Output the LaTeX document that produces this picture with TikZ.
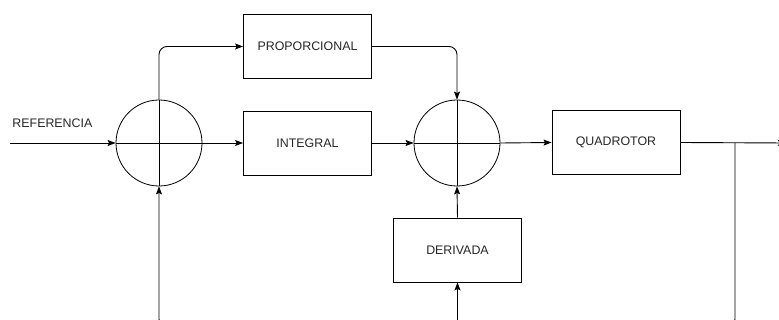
\documentclass[tikz,border=0pt]{standalone}
\usepackage{fontspec}
\setmainfont{Liberation Sans}
\usetikzlibrary{arrows.meta}
\begin{document}
\begin{tikzpicture}[x=1pt,y=-1pt,
  line width=0.9pt,
  every node/.style={font=\fontsize{12.4}{14}\selectfont, text=black!85},
  block/.style={draw, line width=0.9pt, minimum width=128pt, minimum height=64pt, inner sep=0pt},
  summer/.style={draw, circle, line width=0.8pt, minimum size=86pt, inner sep=0pt,
    path picture={
      \draw[line width=0.9pt] (path picture bounding box.north) -- (path picture bounding box.south);
      \draw[line width=0.9pt] (path picture bounding box.west) -- (path picture bounding box.east);
    }},
  flow/.style={-{Stealth[length=8pt,width=6pt,inset=1.5pt]}, line width=0.9pt},
  wire/.style={line width=0.9pt}
]
\useasboundingbox (0,0) rectangle (779,320);
\clip (0,0) rectangle (779,320);

% summing junctions
\node[summer] (c1) at (159,143) {};
\node[summer] (c2) at (457,143) {};

% controller and plant blocks
\node[block] (prop) at (307.5,46.5) {PROPORCIONAL};
\node[block] (int)  at (307.5,143) {INTEGRAL};
\node[block] (der)  at (457.5,250) {DERIVADA};
\node[block] (quad) at (616,142.5) {QUADROTOR};

% reference input
\node[anchor=west, inner sep=0pt] (reflabel) at (12,123) {REFERENCIA};
\coordinate (in) at (10,143);
\draw[flow] (in) -- (c1.west);

% forward paths
\draw[flow, rounded corners=8pt] (c1.north) |- (prop.west);
\draw[flow] (c1.east) -- (int.west);
\draw[flow, rounded corners=8pt] (prop.east) -| (c2.north);
\draw[flow] (int.east) -- (c2.west);
\draw[flow] (der.north) -- (c2.south);
\draw[flow] (c2.east) -- (quad.west);

% output
\coordinate (out) at (786,143);
\draw[flow] (quad.east) -- (out);

% feedback loop
\coordinate (tap) at (735,143);
\coordinate (fbR) at (735,327);
\coordinate (fbL) at (159,327);
\coordinate (fbD) at (457.5,327);
\draw[flow, rounded corners=8pt] (tap) -- (fbR) -- (fbL) -- (c1.south);
\draw[flow] (fbD) -- (der.south);
\end{tikzpicture}
\end{document}
